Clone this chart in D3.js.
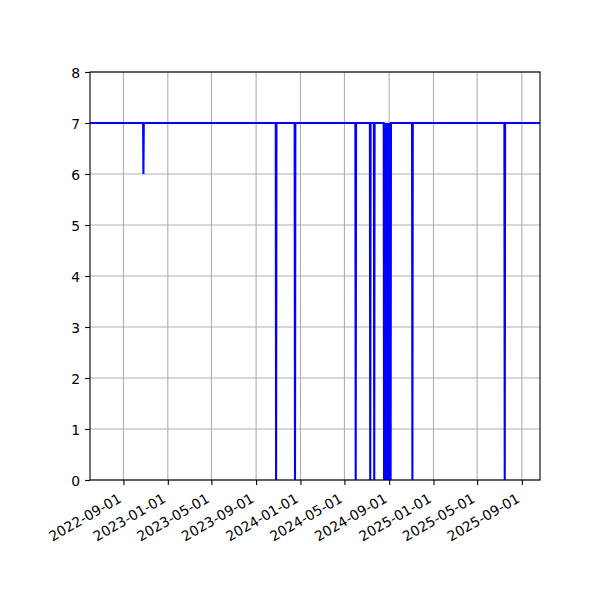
<!DOCTYPE html>
<html>
<head>
<meta charset="utf-8">
<script src="https://cdn.jsdelivr.net/npm/d3@7"></script>
<style>
  html, body { margin: 0; padding: 0; background: #fff; }
  svg { display: block; }
  text { font-family: "DejaVu Sans", sans-serif; font-size: 13.9px; fill: #000; }
</style>
</head>
<body>
<script>
// ---- data ----
const xStart = "2022-06-01";
const xEnd = "2025-10-21";
const pointDates = [
  "2022-06-01", "2022-10-25", "2022-10-26", "2022-10-27",
  "2023-10-25", "2023-10-26", "2023-10-27",
  "2023-12-16", "2023-12-17", "2023-12-18",
  "2024-05-31", "2024-06-01", "2024-06-02",
  "2024-07-10", "2024-07-11", "2024-07-12",
  "2024-07-21", "2024-07-22", "2024-07-23",
  "2024-08-17", "2024-08-18", "2024-08-19", "2024-08-20", "2024-08-21",
  "2024-08-22", "2024-08-23", "2024-08-24", "2024-08-25", "2024-08-26",
  "2024-08-27", "2024-08-28", "2024-08-29", "2024-08-30", "2024-08-31",
  "2024-09-01", "2024-09-02", "2024-09-03", "2024-09-04", "2024-09-05",
  "2024-09-06",
  "2024-11-03", "2024-11-04", "2024-11-05",
  "2025-07-15", "2025-07-16", "2025-07-17",
  "2025-10-21"
];
const pointValues = [
  7, 7, 6, 7,
  7, 0, 7,
  7, 0, 7,
  7, 0, 7,
  7, 0, 7,
  7, 0, 7,
  7, 0, 7, 0, 7,
  0, 7, 0, 7, 0,
  7, 0, 7, 0, 7,
  0, 7, 0, 7, 0,
  7,
  7, 0, 7,
  7, 0, 7,
  7
];
const xTickLabels = [
  "2022-09-01", "2023-01-01", "2023-05-01", "2023-09-01", "2024-01-01",
  "2024-05-01", "2024-09-01", "2025-01-01", "2025-05-01", "2025-09-01"
];
const yTicks = [0, 1, 2, 3, 4, 5, 6, 7, 8];

// ---- layout ----
const W = 600, H = 600;
const mLeft = 90, mRight = 540, mTop = 72, mBottom = 480;
const parse = d3.utcParse("%Y-%m-%d");

const svg = d3.select("body").append("svg").attr("width", W).attr("height", H);
svg.append("rect").attr("width", W).attr("height", H).attr("fill", "#fff");

const x = d3.scaleUtc().domain([parse(xStart), parse(xEnd)]).range([mLeft, mRight]);
const y = d3.scaleLinear().domain([0, 8]).range([mBottom, mTop]);

const tickDates = xTickLabels.map(parse);

// grid
const grid = svg.append("g");
grid.selectAll(".gx").data(tickDates).join("line")
  .attr("x1", d => x(d)).attr("x2", d => x(d))
  .attr("y1", mTop).attr("y2", mBottom)
  .attr("stroke", "#b0b0b0").attr("stroke-width", 1.1);
grid.selectAll(".gy").data(yTicks).join("line")
  .attr("x1", mLeft).attr("x2", mRight)
  .attr("y1", d => y(d)).attr("y2", d => y(d))
  .attr("stroke", "#b0b0b0").attr("stroke-width", 1.1);

// clip
svg.append("clipPath").attr("id", "clip").append("rect")
  .attr("x", mLeft).attr("y", mTop).attr("width", mRight - mLeft).attr("height", mBottom - mTop);

const data = pointDates.map((d, i) => ({ date: parse(d), value: pointValues[i] }));
const line = d3.line().x(d => x(d.date)).y(d => y(d.value));
svg.append("path")
  .attr("clip-path", "url(#clip)")
  .attr("d", line(data))
  .attr("fill", "none")
  .attr("stroke", "#0000ff")
  .attr("stroke-width", 2.08)
  .attr("stroke-linejoin", "miter")
  .attr("stroke-miterlimit", 1.5);

// axes
const xAxis = d3.axisBottom(x).tickValues(tickDates).tickFormat(d3.utcFormat("%Y-%m-%d"))
  .tickSize(4.9).tickPadding(4.9);
const gx = svg.append("g").attr("transform", `translate(0,${mBottom})`).call(xAxis);
gx.select(".domain").remove();
gx.selectAll(".tick line").attr("stroke", "#000").attr("stroke-width", 1.1);
gx.selectAll(".tick text")
  .attr("text-anchor", "end")
  .attr("font-family", "DejaVu Sans")
  .attr("font-size", 13.9)
  .attr("x", -1.6).attr("y", 21.3).attr("dy", 0)
  .attr("transform", "rotate(-30, -1.6, 21.3)");

const yAxis = d3.axisLeft(y).tickValues(yTicks).tickFormat(d3.format("d"))
  .tickSize(4.9).tickPadding(4.9);
const gy = svg.append("g").attr("transform", `translate(${mLeft},0)`).call(yAxis);
gy.select(".domain").remove();
gy.selectAll(".tick line").attr("stroke", "#000").attr("stroke-width", 1.1);
gy.selectAll(".tick text").attr("font-family", "DejaVu Sans").attr("font-size", 13.9)
  .attr("dy", "0.36em");

// spines
svg.append("rect")
  .attr("x", mLeft).attr("y", mTop).attr("width", mRight - mLeft).attr("height", mBottom - mTop)
  .attr("fill", "none").attr("stroke", "#000").attr("stroke-width", 1.1);
</script>
</body>
</html>
